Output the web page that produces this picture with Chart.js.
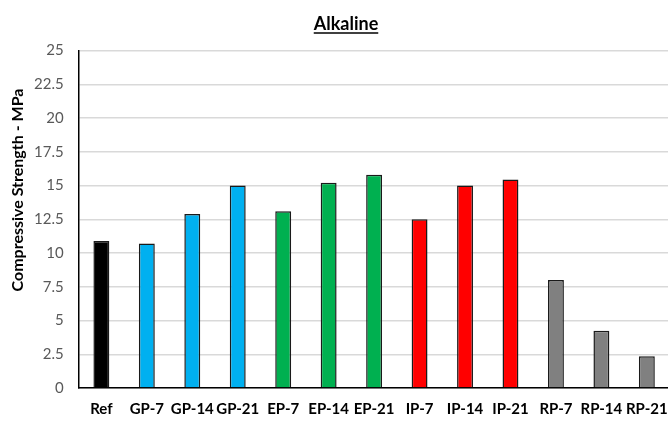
<!DOCTYPE html>
<html>
<head>
<meta charset="utf-8">
<script src="https://cdn.jsdelivr.net/npm/chart.js@4/dist/chart.umd.min.js"></script>
<style>
  html, body { margin: 0; padding: 0; background: #fff; overflow: hidden; }
  #wrap { width: 680px; height: 424px; }
</style>
</head>
<body>
<div id="wrap"><canvas id="chart"></canvas></div>
<script>
const categories = ['Ref', 'GP-7', 'GP-14', 'GP-21', 'EP-7', 'EP-14', 'EP-21', 'IP-7', 'IP-14', 'IP-21', 'RP-7', 'RP-14', 'RP-21']
const strength = [10.9, 10.7, 12.9, 15.0, 13.1, 15.2, 15.8, 12.5, 15.0, 15.45, 8.0, 4.25, 2.35]
const barColors = ['#000000',
    '#00b0f0', '#00b0f0', '#00b0f0',
    '#00b050', '#00b050', '#00b050',
    '#ff0000', '#ff0000', '#ff0000',
    '#808080', '#808080', '#808080']
const yTitle = 'Compressive Strength - MPa'
const chartTitle = 'Alkaline'

const FONT = 'Lato, "Open Sans", sans-serif'

// draws underline under title and the y axis title (Excel puts it above centre)
const extras = {
    id: 'extras',
    afterDraw(chart) {
        const ctx = chart.ctx
        const tb = chart.titleBlock
        ctx.save()
        ctx.font = 'bold 18px ' + FONT
        const w = ctx.measureText(chartTitle).width
        const cx = (tb.left + tb.right) / 2
        const y = tb.top + tb.options.padding.top + 20
        ctx.strokeStyle = '#000'
        ctx.lineWidth = 1.5
        ctx.beginPath()
        ctx.moveTo(cx - w / 2, y)
        ctx.lineTo(cx + w / 2, y)
        ctx.stroke()

        ctx.translate(18, 190)
        ctx.rotate(-Math.PI / 2)
        ctx.font = 'bold 16px ' + FONT
        ctx.fillStyle = '#000'
        ctx.textAlign = 'center'
        ctx.textBaseline = 'middle'
        ctx.fillText(yTitle, 0, 0)
        ctx.restore()
    }
}

new Chart(document.getElementById('chart'), {
    type: 'bar',
    data: {
        labels: categories,
        datasets: [{
            data: strength,
            backgroundColor: barColors,
            borderColor: '#1a1a1a',
            borderWidth: 1.5,
            barPercentage: 0.35,
            categoryPercentage: 1
        }]
    },
    options: {
        responsive: true,
        maintainAspectRatio: false,
        animation: false,
        layout: { padding: { left: 19, right: 7, bottom: -6 } },
        plugins: {
            legend: { display: false },
            tooltip: { enabled: false },
            title: {
                display: true,
                text: chartTitle,
                color: '#000',
                font: { family: FONT, size: 18, weight: 'bold' },
                padding: { top: 13, bottom: 16 }
            }
        },
        scales: {
            x: {
                grid: { display: false, drawTicks: false },
                border: { display: true, color: '#000', width: 1.5 },
                ticks: {
                    color: '#000',
                    padding: 12,
                    autoSkip: false,
                    maxRotation: 0,
                    font: { family: FONT, size: 15, weight: 'bold' }
                }
            },
            y: {
                min: 0,
                max: 25,
                grid: { color: '#d9d9d9', lineWidth: 1.5, drawTicks: false },
                border: { display: true, color: '#000', width: 1.5 },
                ticks: {
                    stepSize: 2.5,
                    color: '#595959',
                    padding: 15,
                    font: { family: FONT, size: 15 }
                }
            }
        }
    },
    plugins: [extras]
})
</script>
</body>
</html>
